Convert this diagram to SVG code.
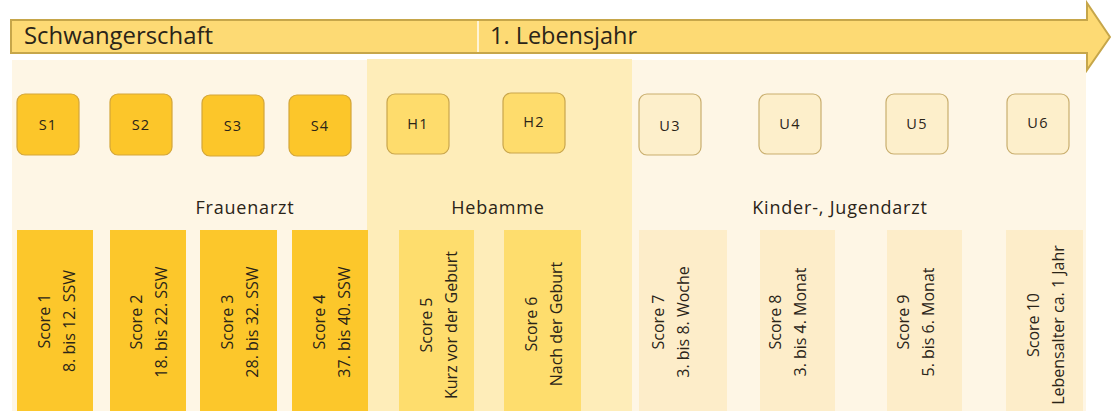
<svg xmlns="http://www.w3.org/2000/svg" width="1111" height="411" viewBox="0 0 1111 411">
<style>
  text { font-family: "Open Sans", "Liberation Sans", sans-serif; fill: #2a2418; }
  .title { font-size: 23px; }
  .group { font-size: 18px; text-anchor: middle; letter-spacing: 0.8px; }
  .lbl { font-size: 14.5px; text-anchor: middle; letter-spacing: 1.2px; }
  .score { font-size: 16px; text-anchor: middle; }
  .bx { stroke-width: 1.2; }
  .s-box { fill: #FCC62A; stroke: #D3A63A; }
  .h-box { fill: #FEDC6C; stroke: #C9A64C; }
  .u-box { fill: #FDEFCB; stroke: #C9AE6E; }
  .s-col { fill: #FCC72B; }
  .h-col { fill: #FEDD6D; }
  .u-col { fill: #FDEDC9; }
</style>

<g id="background">
  <rect x="12" y="60" width="1074" height="351" fill="#FEF6E5"/>
  <rect id="hebamme-panel" x="367" y="59" width="265" height="352" fill="#FEEDB9"/>
</g>

<g id="connectors">
  <g id="timeline">
    <polygon points="11,20 1087,20 1087,3 1110,37 1087,70 1087,53 11,53" fill="#FDDA74" stroke="#C6A64A" stroke-width="2" stroke-linejoin="miter"/>
    <line x1="478" y1="21" x2="478" y2="52" stroke="#FFF4D6" stroke-width="2"/>
    <text class="title" x="24" y="44" textLength="189" lengthAdjust="spacingAndGlyphs">Schwangerschaft</text>
    <text class="title" x="490" y="44" textLength="147" lengthAdjust="spacingAndGlyphs">1. Lebensjahr</text>
  </g>
</g>

<g id="S1"><rect class="bx s-box" x="17" y="94" width="62" height="61" rx="8"/><text class="lbl" x="48" y="130">S1</text></g>
<g id="S2"><rect class="bx s-box" x="110" y="94" width="62" height="61" rx="8"/><text class="lbl" x="141" y="130">S2</text></g>
<g id="S3"><rect class="bx s-box" x="202" y="95" width="62" height="61" rx="8"/><text class="lbl" x="233" y="131">S3</text></g>
<g id="S4"><rect class="bx s-box" x="289" y="95" width="62" height="61" rx="8"/><text class="lbl" x="320" y="131">S4</text></g>
<g id="H1"><rect class="bx h-box" x="387" y="94" width="62" height="60" rx="8"/><text class="lbl" x="418" y="129">H1</text></g>
<g id="H2"><rect class="bx h-box" x="503" y="93" width="62" height="60" rx="8"/><text class="lbl" x="534" y="127">H2</text></g>
<g id="U3"><rect class="bx u-box" x="639" y="94" width="62" height="61" rx="8"/><text class="lbl" x="670" y="131">U3</text></g>
<g id="U4"><rect class="bx u-box" x="759" y="94" width="62" height="60" rx="8"/><text class="lbl" x="790" y="129">U4</text></g>
<g id="U5"><rect class="bx u-box" x="886" y="94" width="62" height="60" rx="8"/><text class="lbl" x="917" y="129">U5</text></g>
<g id="U6"><rect class="bx u-box" x="1007" y="94" width="62" height="60" rx="8"/><text class="lbl" x="1038" y="128">U6</text></g>

<g id="label-frauenarzt"><text class="group" x="245" y="214">Frauenarzt</text></g>
<g id="label-hebamme"><text class="group" x="498" y="214">Hebamme</text></g>
<g id="label-kinderarzt"><text class="group" x="840" y="214">Kinder-, Jugendarzt</text></g>

<g id="Score1"><rect class="s-col" x="17" y="230" width="76" height="181"/>
  <g transform="translate(55,321) rotate(-90)"><text class="score" x="0" y="-5">Score 1</text><text class="score" x="0" y="20">8. bis 12. SSW</text></g></g>
<g id="Score2"><rect class="s-col" x="110" y="230" width="76" height="181"/>
  <g transform="translate(147,322) rotate(-90)"><text class="score" x="0" y="-5">Score 2</text><text class="score" x="0" y="20">18. bis 22. SSW</text></g></g>
<g id="Score3"><rect class="s-col" x="200" y="230" width="77" height="181"/>
  <g transform="translate(238,322) rotate(-90)"><text class="score" x="0" y="-5">Score 3</text><text class="score" x="0" y="20">28. bis 32. SSW</text></g></g>
<g id="Score4"><rect class="s-col" x="292" y="230" width="76" height="181"/>
  <g transform="translate(330,322) rotate(-90)"><text class="score" x="0" y="-5">Score 4</text><text class="score" x="0" y="20">37. bis 40. SSW</text></g></g>
<g id="Score5"><rect class="h-col" x="399" y="230" width="75" height="181"/>
  <g transform="translate(437,325) rotate(-90)"><text class="score" x="0" y="-5">Score 5</text><text class="score" x="0" y="20">Kurz vor der Geburt</text></g></g>
<g id="Score6"><rect class="h-col" x="504" y="230" width="77" height="181"/>
  <g transform="translate(542,324) rotate(-90)"><text class="score" x="0" y="-5">Score 6</text><text class="score" x="0" y="20">Nach der Geburt</text></g></g>
<g id="Score7"><rect class="u-col" x="639" y="230" width="88" height="181"/>
  <g transform="translate(669,322) rotate(-90)"><text class="score" x="0" y="-5">Score 7</text><text class="score" x="0" y="20">3. bis 8. Woche</text></g></g>
<g id="Score8"><rect class="u-col" x="760" y="230" width="75" height="181"/>
  <g transform="translate(786,322) rotate(-90)"><text class="score" x="0" y="-5">Score 8</text><text class="score" x="0" y="20">3. bis 4. Monat</text></g></g>
<g id="Score9"><rect class="u-col" x="887" y="230" width="75" height="181"/>
  <g transform="translate(914,322) rotate(-90)"><text class="score" x="0" y="-5">Score 9</text><text class="score" x="0" y="20">5. bis 6. Monat</text></g></g>
<g id="Score10"><rect class="u-col" x="1006" y="230" width="77" height="181"/>
  <g transform="translate(1044,325) rotate(-90)"><text class="score" x="0" y="-5">Score 10</text><text class="score" x="0" y="20">Lebensalter ca. 1 Jahr</text></g></g>
</svg>
